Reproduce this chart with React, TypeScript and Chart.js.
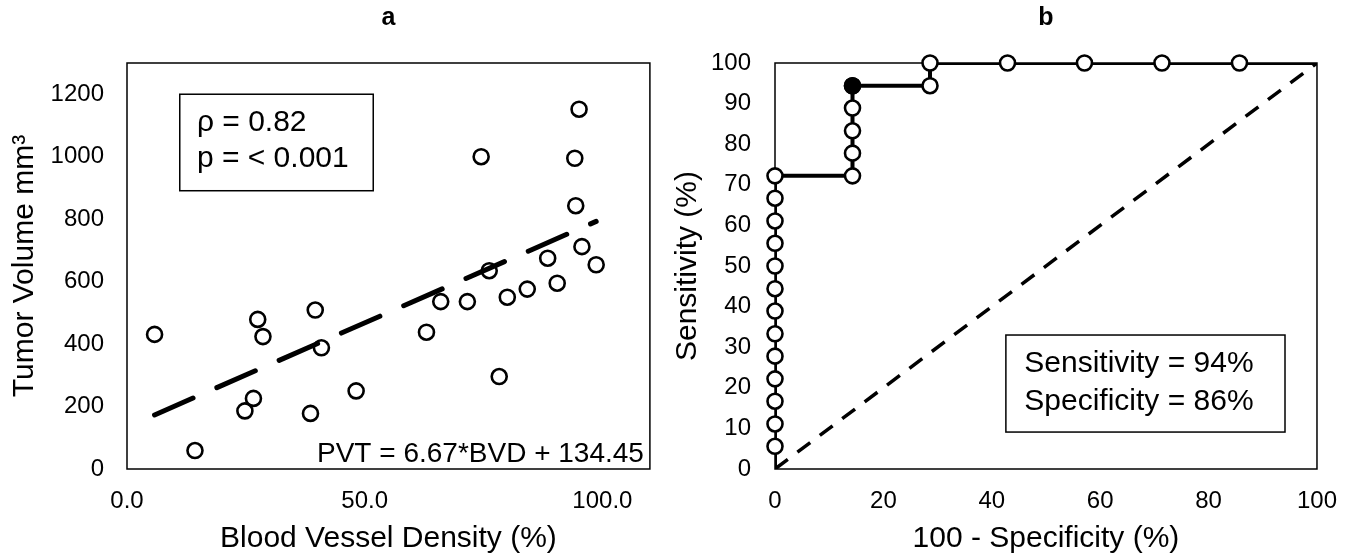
import React, { useEffect, useRef } from 'react';
import { Chart, registerables } from 'chart.js';

Chart.register(...registerables);

const FONT = "'Liberation Sans', Arial, Helvetica, sans-serif";
Chart.defaults.font.family = FONT;
Chart.defaults.color = '#000';

// ---------- Panel a: blood vessel density vs tumor volume ----------
const bloodVesselDensity = [5.8, 14.3, 24.8, 26.6, 27.5, 28.6, 38.6, 39.6, 40.9, 48.2, 63.0, 66.0, 71.6, 74.5, 76.2, 78.3, 80.0, 84.2, 88.5, 90.5, 94.2, 94.4, 95.1, 95.7, 98.7];
const tumorVolume = [431, 59, 186, 226, 479, 424, 178, 509, 388, 250, 438, 536, 536, 1000, 635, 296, 550, 576, 675, 595, 995, 843, 1152, 712, 654];
const trendSlope = 6.67;
const trendIntercept = 134.45;
const panelATitle = 'a';
const panelAXTitle = 'Blood Vessel Density (%)';
const panelAYTitle = 'Tumor Volume mm³';
const panelAStats = ['ρ = 0.82', 'p = < 0.001'];
const panelAEquation = 'PVT = 6.67*BVD + 134.45';

// ---------- Panel b: ROC curve ----------
const rocFpr = [0, 0, 0, 0, 0, 0, 0, 0, 0, 0, 0, 0, 0, 0, 14.3, 14.3, 14.3, 14.3, 14.3, 28.6, 28.6, 42.9, 57.1, 71.4, 85.7, 100];
const rocSensitivity = [0, 5.6, 11.1, 16.7, 22.2, 27.8, 33.3, 38.9, 44.4, 50.0, 55.6, 61.1, 66.7, 72.2, 72.2, 77.8, 83.3, 88.9, 94.4, 94.4, 100, 100, 100, 100, 100, 100];
const cutoffFpr = [14.3];
const cutoffSensitivity = [94.4];
const chanceFpr = [0, 100];
const chanceSensitivity = [0, 100];
const panelBTitle = 'b';
const panelBXTitle = '100 - Specificity (%)';
const panelBYTitle = 'Sensitivity (%)';
const panelBStats = ['Sensitivity = 94%', 'Specificity = 86%'];

const toXY = (xs: number[], ys: number[]) => xs.map((x, i) => ({ x, y: ys[i] }));

type NoteCfg = {
  box: { x1: number; x2: number; y1: number; y2: number };
  textX: number;
  lineY: number[];
  lines: string[];
  size: number;
  equation?: string;
};

const makeNotes = (cfg: NoteCfg) => ({
  id: 'frameNotes',
  beforeDatasetsDraw(chart: any) {
    const { ctx, chartArea: a } = chart;
    ctx.save();
    ctx.strokeStyle = '#000';
    ctx.lineWidth = 1.5;
    ctx.strokeRect(a.left, a.top, a.right - a.left, a.bottom - a.top);
    ctx.restore();
  },
  afterDraw(chart: any) {
    const { ctx, chartArea: a } = chart;
    const xs = chart.scales.x;
    const ys = chart.scales.y;
    const bx1 = xs.getPixelForValue(cfg.box.x1);
    const bx2 = xs.getPixelForValue(cfg.box.x2);
    const by1 = ys.getPixelForValue(cfg.box.y1);
    const by2 = ys.getPixelForValue(cfg.box.y2);
    ctx.save();
    ctx.fillStyle = '#fff';
    ctx.fillRect(bx1, by1, bx2 - bx1, by2 - by1);
    ctx.strokeStyle = '#000';
    ctx.lineWidth = 1.5;
    ctx.strokeRect(bx1, by1, bx2 - bx1, by2 - by1);
    ctx.fillStyle = '#000';
    ctx.font = `${cfg.size}px ${FONT}`;
    ctx.textAlign = 'left';
    ctx.textBaseline = 'middle';
    cfg.lines.forEach((t, i) => {
      ctx.fillText(t, xs.getPixelForValue(cfg.textX), ys.getPixelForValue(cfg.lineY[i]));
    });
    if (cfg.equation) {
      ctx.font = `28px ${FONT}`;
      ctx.textAlign = 'right';
      ctx.textBaseline = 'alphabetic';
      ctx.fillText(cfg.equation, a.right - 6, a.bottom - 7);
    }
    ctx.restore();
  },
});

const tickFont = { size: 24, family: FONT };
const axisTitleFont = { size: 30, family: FONT, lineHeight: 1 };
const plainTick = (v: any) => String(v);

function PanelA() {
  const ref = useRef<HTMLCanvasElement | null>(null);
  useEffect(() => {
    if (!ref.current) return;
    const minX = Math.min(...bloodVesselDensity);
    const maxX = Math.max(...bloodVesselDensity);
    const trend = [minX, maxX].map((x) => ({ x, y: trendSlope * x + trendIntercept }));
    const chart = new Chart(ref.current, {
      type: 'scatter',
      data: {
        datasets: [
          {
            label: 'trend',
            data: trend,
            showLine: true,
            borderColor: '#000',
            borderWidth: 5,
            borderDash: [42, 26],
            borderCapStyle: 'round',
            pointRadius: 0,
            pointHoverRadius: 0,
          } as any,
          {
            label: 'tumors',
            data: toXY(bloodVesselDensity, tumorVolume),
            showLine: false,
            pointStyle: 'circle',
            pointRadius: 7.5,
            pointHoverRadius: 7.5,
            pointBorderWidth: 2.6,
            pointBackgroundColor: '#fff',
            pointBorderColor: '#000',
          },
        ],
      },
      options: {
        responsive: false,
        animation: false,
        events: [],
        layout: { padding: { left: 0, right: 9, top: 0, bottom: 0 } },
        plugins: {
          legend: { display: false },
          tooltip: { enabled: false },
          title: {
            display: true,
            text: panelATitle,
            color: '#000',
            fullSize: false,
            font: { size: 25, weight: 'bold', family: FONT, lineHeight: 1.2 },
            padding: { top: 3, bottom: 30 },
          },
        },
        scales: {
          x: {
            type: 'linear',
            min: 0,
            max: 110,
            grid: { display: false, drawTicks: false },
            border: { display: false },
            ticks: {
              stepSize: 50,
              includeBounds: false,
              autoSkip: false,
              maxRotation: 0,
              padding: 18,
              font: tickFont,
              color: '#000',
              callback: (v: any) => Number(v).toFixed(1),
            },
            title: { display: true, text: panelAXTitle, font: axisTitleFont, color: '#000', padding: { top: 0, bottom: 1 } },
            afterFit: (s: any) => { s.height = 86; },
          },
          y: {
            type: 'linear',
            min: 0,
            max: 1300,
            grid: { display: false, drawTicks: false },
            border: { display: false },
            ticks: { stepSize: 200, includeBounds: false, padding: 23, font: tickFont, color: '#000', callback: plainTick },
            title: { display: true, text: panelAYTitle, font: axisTitleFont, color: '#000', padding: { top: 10, bottom: 0 } },
            afterFit: (s: any) => { s.width = 127; },
          },
        },
      },
      plugins: [
        makeNotes({
          box: { x1: 11.1, x2: 51.8, y1: 1200, y2: 891 },
          textX: 14.7,
          lineY: [1108, 993],
          lines: panelAStats,
          size: 30,
          equation: panelAEquation,
        }),
      ],
    } as any);
    return () => chart.destroy();
  }, []);
  return <canvas ref={ref} width={660} height={555} />;
}

function PanelB() {
  const ref = useRef<HTMLCanvasElement | null>(null);
  useEffect(() => {
    if (!ref.current) return;
    const markerRadius = rocFpr.map((_, i) => (i === 0 || i === rocFpr.length - 1 ? 0 : 7.5));
    const chart = new Chart(ref.current, {
      type: 'scatter',
      data: {
        datasets: [
          {
            label: 'cutoff',
            data: toXY(cutoffFpr, cutoffSensitivity),
            showLine: false,
            clip: false,
            pointRadius: 7.5,
            pointHoverRadius: 7.5,
            pointBorderWidth: 2.6,
            pointBackgroundColor: '#000',
            pointBorderColor: '#000',
          },
          {
            label: 'roc markers',
            data: toXY(rocFpr, rocSensitivity),
            showLine: false,
            clip: false,
            pointRadius: markerRadius,
            pointHoverRadius: markerRadius,
            pointBorderWidth: 2.6,
            pointBackgroundColor: '#fff',
            pointBorderColor: '#000',
          },
          {
            label: 'roc line',
            data: toXY(rocFpr, rocSensitivity),
            showLine: true,
            borderColor: '#000',
            borderWidth: 4,
            pointRadius: 0,
            pointHoverRadius: 0,
          },
          {
            label: 'chance',
            data: toXY(chanceFpr, chanceSensitivity),
            showLine: true,
            borderColor: '#000',
            borderWidth: 3.5,
            borderDash: [16, 12],
            pointRadius: 0,
            pointHoverRadius: 0,
          },
        ],
      },
      options: {
        responsive: false,
        animation: false,
        events: [],
        layout: { padding: { left: 0, right: 33, top: 0, bottom: 0 } },
        plugins: {
          legend: { display: false },
          tooltip: { enabled: false },
          title: {
            display: true,
            text: panelBTitle,
            color: '#000',
            fullSize: false,
            font: { size: 25, weight: 'bold', family: FONT, lineHeight: 1.2 },
            padding: { top: 3, bottom: 30 },
          },
        },
        scales: {
          x: {
            type: 'linear',
            min: 0,
            max: 100,
            grid: { display: false, drawTicks: false },
            border: { display: false },
            ticks: { stepSize: 20, autoSkip: false, maxRotation: 0, padding: 18, font: tickFont, color: '#000', callback: plainTick },
            title: { display: true, text: panelBXTitle, font: axisTitleFont, color: '#000', padding: { top: 0, bottom: 1 } },
            afterFit: (s: any) => { s.height = 86; },
          },
          y: {
            type: 'linear',
            min: 0,
            max: 100,
            grid: { display: false, drawTicks: false },
            border: { display: false },
            ticks: { stepSize: 10, padding: 24, font: tickFont, color: '#000', callback: plainTick },
            title: { display: true, text: panelBYTitle, font: axisTitleFont, color: '#000', padding: { top: 13, bottom: 0 } },
            afterFit: (s: any) => { s.width = 115; },
          },
        },
      },
      plugins: [
        makeNotes({
          box: { x1: 42.6, x2: 94.1, y1: 33, y2: 9.1 },
          textX: 46,
          lineY: [25.9, 16.5],
          lines: panelBStats,
          size: 30,
        }),
      ],
    } as any);
    return () => chart.destroy();
  }, []);
  return <canvas ref={ref} width={695} height={555} />;
}

export default function App() {
  return (
    <div style={{ position: 'absolute', left: 0, top: 0, width: 1355, height: 555, background: '#fff', overflow: 'hidden' }}>
      <div style={{ position: 'absolute', left: 0, top: 0 }}>
        <PanelA />
      </div>
      <div style={{ position: 'absolute', left: 660, top: 0 }}>
        <PanelB />
      </div>
    </div>
  );
}
